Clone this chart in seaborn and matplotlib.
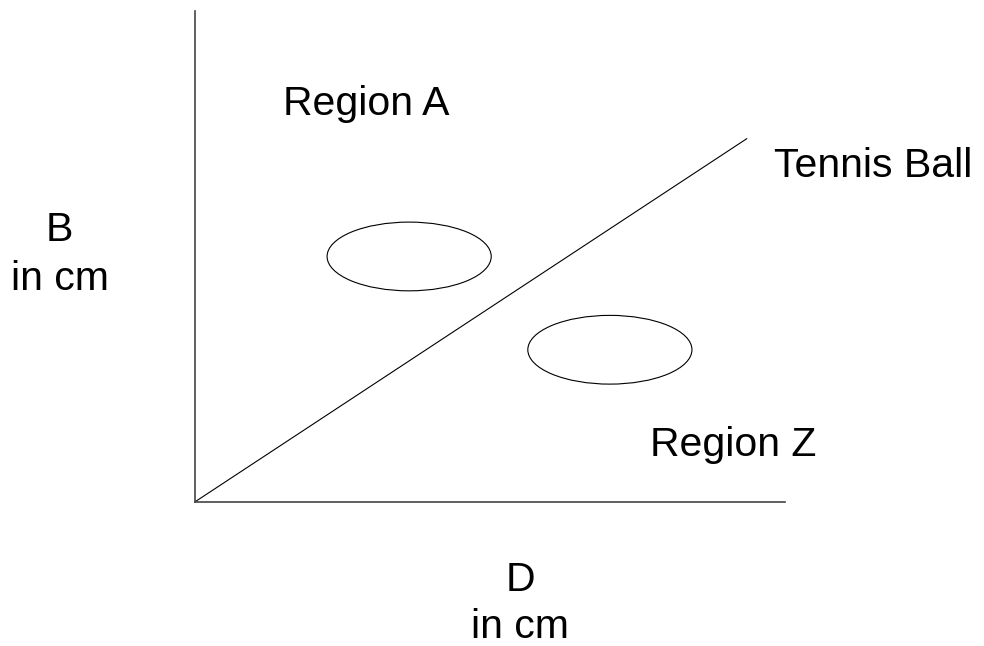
import numpy as np
import matplotlib
matplotlib.use("Agg")
import matplotlib.pyplot as plt
from matplotlib.patches import Ellipse
import seaborn as sns

sns.set_theme(style="white")
plt.rcParams["font.family"] = ["Liberation Sans", "DejaVu Sans"]
plt.rcParams["text.color"] = "black"

# diagonal "Tennis Ball" line, in plot units (0-100)
line_x = [0, 93.5]
line_y = [0, 74]

# the two ellipses: centre x, centre y, width, height
ell_x = [36.3, 70.3]
ell_y = [50.0, 31.0]
ell_w = [27.8, 27.8]
ell_h = [14.0, 14.0]

# labels
region_labels = ["Region A", "Tennis Ball", "Region Z"]
region_x = [29.0, 114.9, 91.2]
region_y = [78.8, 66.2, 9.4]
y_label = ["B", "in cm"]
x_label = ["D", "in cm"]

fig = plt.figure(figsize=(9.84, 6.46), dpi=100)
ax = fig.add_axes([0.198, 0.223, 0.600, 0.760])

sns.lineplot(x=line_x, y=line_y, ax=ax, color="black", linewidth=0.8)

for cx, cy, w, h in zip(ell_x, ell_y, ell_w, ell_h):
    ax.add_patch(Ellipse((cx, cy), w, h, fill=False, edgecolor="black", linewidth=0.8))

ax.set_xlim(0, 100)
ax.set_ylim(0, 100)
ax.set_xticks([])
ax.set_yticks([])
sns.despine(ax=ax)
for s in ["left", "bottom"]:
    ax.spines[s].set_color("#444444")
    ax.spines[s].set_linewidth(1.2)

fs = 29.5
for lab, x, y in zip(region_labels, region_x, region_y):
    ax.text(x, y, lab, ha="center", va="baseline", fontsize=fs, color="black", clip_on=False)

# axis titles, two lines each
ax.text(-22.9, 53.2, y_label[0], ha="center", va="baseline", fontsize=fs, color="black", clip_on=False)
ax.text(-22.9, 43.2, y_label[1], ha="center", va="baseline", fontsize=fs, color="black", clip_on=False)
ax.text(55.1, -18.1, x_label[0], ha="center", va="baseline", fontsize=fs, color="black", clip_on=False)
ax.text(55.1, -27.7, x_label[1], ha="center", va="baseline", fontsize=fs, color="black", clip_on=False)

fig.savefig("out.png", dpi=100)
